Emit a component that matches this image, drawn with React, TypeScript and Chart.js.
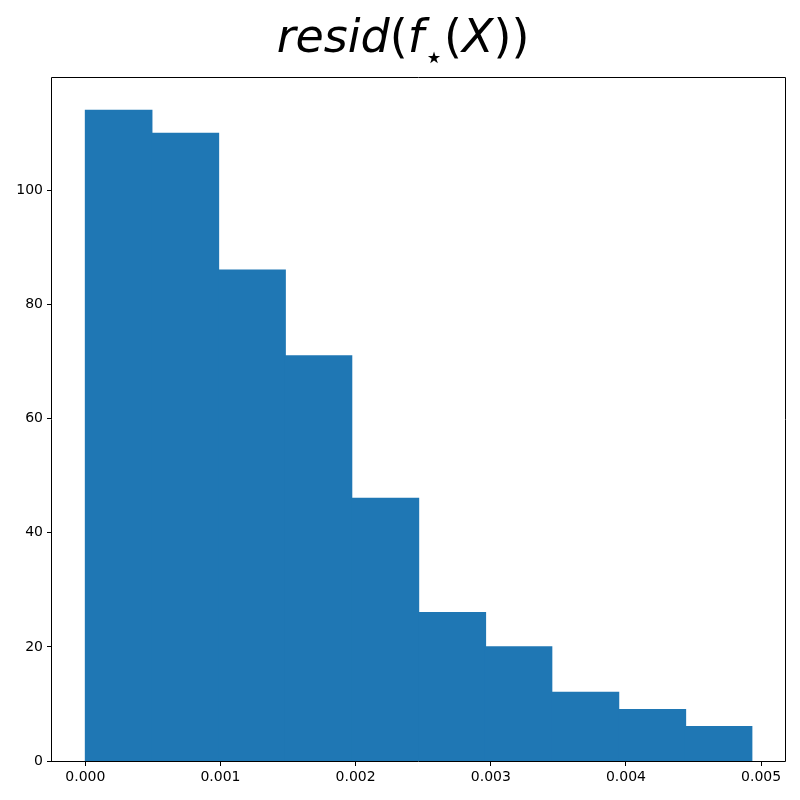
import React, { useEffect, useRef } from "react";
import { Chart, registerables } from "chart.js";

Chart.register(...registerables);

const binEdges = [0, 0.000493, 0.000987, 0.00148, 0.00197, 0.00247, 0.00296, 0.00345, 0.00395, 0.00444, 0.00493];
const counts = [114, 110, 86, 71, 46, 26, 20, 12, 9, 6];
const xTickValues = [0, 0.001, 0.002, 0.003, 0.004, 0.005];
const yTickValues = [0, 20, 40, 60, 80, 100];

const BAR_COLOR = "#1f77b4";
const FONT = "'DejaVu Sans', sans-serif";

export default function App() {
  const ref = useRef<HTMLCanvasElement | null>(null);

  useEffect(() => {
    document.body.style.margin = "0";
    const canvas = ref.current;
    if (!canvas) return;

    const points = counts.map((c, i) => ({ x: (binEdges[i] + binEdges[i + 1]) / 2, y: c }));
    const dataMax = binEdges[binEdges.length - 1];
    const xPad = (dataMax - binEdges[0]) * 0.05;
    const yMax = Math.max(...counts) * 1.05;

    const framePlugin = {
      id: "frame",
      afterDraw(chart: any) {
        const { ctx, chartArea } = chart;
        ctx.save();
        ctx.strokeStyle = "#000";
        ctx.lineWidth = 1;
        const l = Math.round(chartArea.left) - 0.5;
        const t = Math.round(chartArea.top) - 0.5;
        const r = Math.round(chartArea.right) + 0.5;
        const b = Math.round(chartArea.bottom) + 0.5;
        ctx.beginPath();
        ctx.moveTo(l, t);
        ctx.lineTo(r, t);
        ctx.lineTo(r, b);
        ctx.lineTo(l, b);
        ctx.closePath();
        ctx.stroke();

        // title (mathtext style: italic letters, upright parens, subscript star)
        const size = 46;
        const baseY = 52;
        const italic = `italic ${size}px ${FONT}`;
        const upright = `${size}px ${FONT}`;
        const starFont = `${Math.round(size * 0.7)}px ${FONT}`;
        const parts: [string, string, number][] = [
          ["resid", italic, 0],
          ["(", upright, 0],
          ["f", italic, 0],
          ["\u22C6", starFont, 16],
          ["(", upright, 0],
          ["X", italic, 0],
          ["))", upright, 0],
        ];
        let total = 0;
        const widths = parts.map(([s, f]) => {
          ctx.font = f;
          const w = ctx.measureText(s).width;
          total += w;
          return w;
        });
        let x = 403 - total / 2;
        ctx.fillStyle = "#000";
        ctx.textBaseline = "alphabetic";
        ctx.textAlign = "left";
        parts.forEach(([s, f, dy], i) => {
          ctx.font = f;
          ctx.fillText(s, x, baseY + dy);
          x += widths[i];
        });
        ctx.restore();
      },
    };

    const chart = new Chart(canvas, {
      type: "bar",
      data: {
        datasets: [
          {
            data: points as any,
            backgroundColor: BAR_COLOR,
            borderWidth: 0,
            barPercentage: 1,
            categoryPercentage: 1,
            inflateAmount: 0.7,
            grouped: false,
          } as any,
        ],
      },
      options: {
        animation: false,
        responsive: false,
        maintainAspectRatio: false,
        layout: { padding: { top: 78, right: 15, left: 0, bottom: 0 } },
        plugins: {
          legend: { display: false },
          title: { display: false },
          tooltip: { enabled: false },
        },
        scales: {
          x: {
            type: "linear",
            min: binEdges[0] - xPad,
            max: dataMax + xPad,
            offset: false,
            afterFit(scale: any) {
              scale.height = 39;
            },
            afterBuildTicks(scale: any) {
              scale.ticks = xTickValues.map((v) => ({ value: v }));
            },
            ticks: {
              callback: (v: any) => Number(v).toFixed(3),
              font: { family: FONT, size: 14 },
              color: "#000",
              padding: 3,
              maxRotation: 0,
              autoSkip: false,
            },
            grid: {
              display: true,
              offset: false,
              drawOnChartArea: false,
              drawTicks: true,
              tickLength: 5,
              tickColor: "#000",
            },
            border: { display: false },
          },
          y: {
            type: "linear",
            min: 0,
            max: yMax,
            afterFit(scale: any) {
              scale.width = 52;
            },
            afterBuildTicks(scale: any) {
              scale.ticks = yTickValues.map((v) => ({ value: v }));
            },
            ticks: {
              callback: (v: any) => String(v),
              font: { family: FONT, size: 14 },
              color: "#000",
              padding: 4,
              autoSkip: false,
            },
            grid: {
              display: true,
              drawOnChartArea: false,
              drawTicks: true,
              tickLength: 5,
              tickColor: "#000",
            },
            border: { display: false },
          },
        },
      },
      plugins: [framePlugin],
    });

    return () => chart.destroy();
  }, []);

  return (
    <div style={{ width: 800, height: 800, position: "relative" }}>
      <canvas ref={ref} width={800} height={800} style={{ width: 800, height: 800, display: "block" }} />
    </div>
  );
}
